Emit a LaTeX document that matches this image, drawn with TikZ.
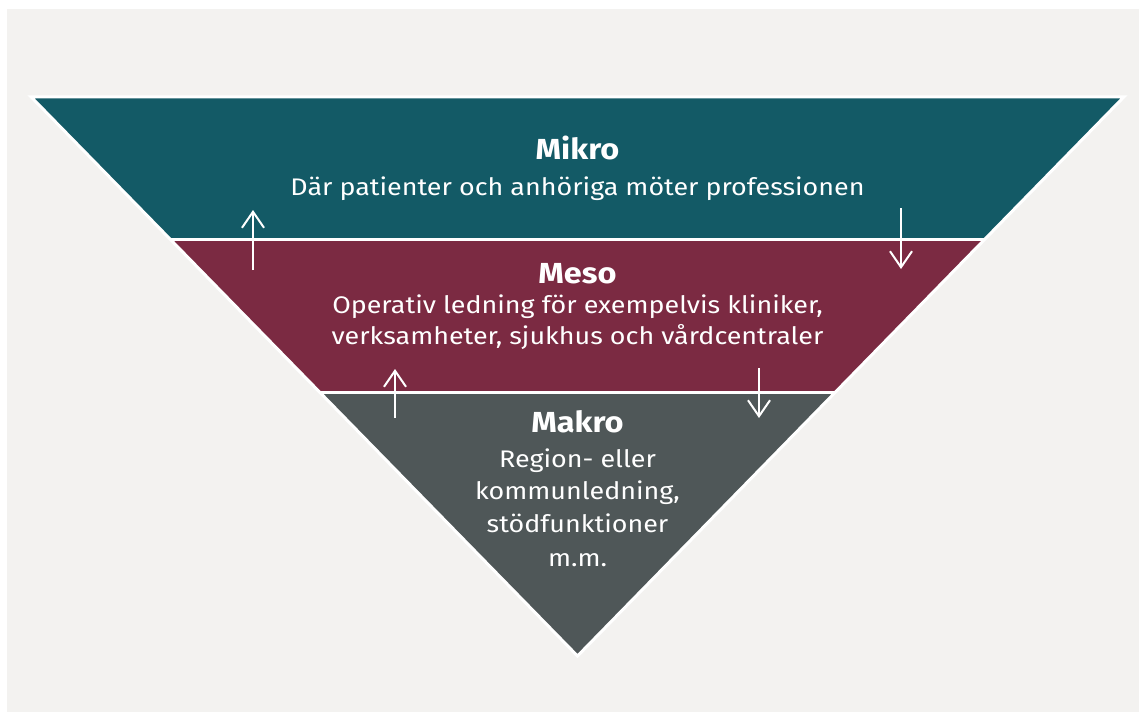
\documentclass[tikz,border=0pt]{standalone}
\usepackage{fontspec}
\setmainfont{Fira Sans}[FakeStretch=1.12]
\usetikzlibrary{calc,arrows.meta}
\definecolor{bggray}{HTML}{F3F2F0}
\definecolor{mikrocol}{HTML}{135A66}
\definecolor{mesocol}{HTML}{7B2A42}
\definecolor{makrocol}{HTML}{4F5758}
\tikzset{
  head/.style={text=white,anchor=base,inner sep=0pt,font=\fontsize{29}{32}\selectfont\bfseries},
  body/.style={text=white,anchor=base,inner sep=0pt,font=\fontsize{24}{28}\selectfont},
  flow/.style={draw=white,line width=2pt,-{Straight Barb[length=16pt,width=22pt,line width=2pt]}},
  outline/.style={draw=white,line width=3pt,line join=miter}
}
\begin{document}
\begin{tikzpicture}[x=1pt,y=-1pt]
\useasboundingbox (0,0) rectangle (1139,712);
\fill[white] (0,0) rectangle (1139,712);
\fill[bggray] (7,9) rectangle (1139,712);
\coordinate (L) at (31,96.8);
\coordinate (R) at (1124,96.8);
\coordinate (A) at (577.5,656);
\coordinate (L1) at ($(L)!0.2548!(A)$);
\coordinate (R1) at ($(R)!0.2548!(A)$);
\coordinate (L2) at ($(L)!0.5284!(A)$);
\coordinate (R2) at ($(R)!0.5284!(A)$);
\fill[mikrocol] (L) -- (R) -- (R1) -- (L1) -- cycle;
\fill[mesocol] (L1) -- (R1) -- (R2) -- (L2) -- cycle;
\fill[makrocol] (L2) -- (R2) -- (A) -- cycle;
\draw[outline] (L) -- (R) -- (A) -- cycle;
\draw[outline] (L1) -- (R1);
\draw[outline] (L2) -- (R2);
% texts
\node[head] (mikro) at (577.5,159) {Mikro};
\node[body] (mikro1) at (577.5,195) {Där patienter och anhöriga möter professionen};
\node[head] (meso) at (577.5,283) {Meso};
\node[body] (meso1) at (577.5,313) {Operativ ledning för exempelvis kliniker,};
\node[body] (meso2) at (577.5,344) {verksamheter, sjukhus och vårdcentraler};
\node[head] (makro) at (577.5,432) {Makro};
\node[body] (makro1) at (577.5,467) {Region- eller};
\node[body] (makro2) at (577.5,499) {kommunledning,};
\node[body] (makro3) at (577.5,532) {stödfunktioner};
\node[body] (makro4) at (577.5,566) {m.m.};
% arrows
\coordinate (u1s) at (253,270);
\coordinate (u1e) at (253,210);
\coordinate (d1s) at (901,208);
\coordinate (d1e) at (901,269);
\coordinate (u2s) at (395,418);
\coordinate (u2e) at (395,369);
\coordinate (d2s) at (759,368);
\coordinate (d2e) at (759,418);
\draw[flow] (u1s) -- (u1e);
\draw[flow] (d1s) -- (d1e);
\draw[flow] (u2s) -- (u2e);
\draw[flow] (d2s) -- (d2e);
\end{tikzpicture}
\end{document}
